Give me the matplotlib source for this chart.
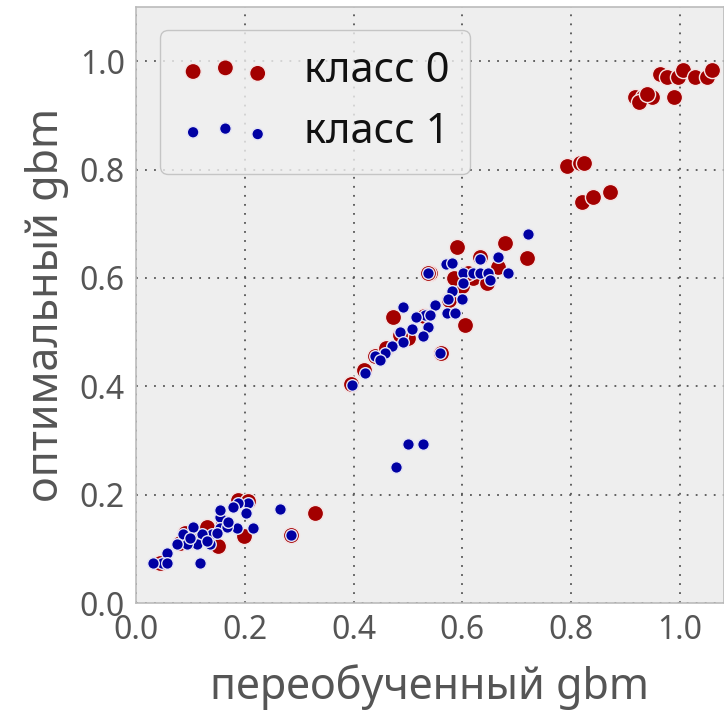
import matplotlib
matplotlib.use("Agg")
import matplotlib.pyplot as plt
import numpy as np

plt.rcParams['font.family'] = ['Noto Sans', 'DejaVu Sans']

# class 0 (red)
x0 = [0.917, 0.932, 0.949, 0.925, 0.940, 0.989, 0.963, 0.976, 0.996, 1.006, 1.028, 1.050, 1.059,
      0.792, 0.816, 0.820, 0.840, 0.871, 0.824,
      0.590, 0.678, 0.719, 0.605, 0.472, 0.540, 0.632, 0.665, 0.600, 0.560, 0.440, 0.420,
      0.395, 0.460, 0.500, 0.620, 0.645, 0.530, 0.575, 0.610, 0.585, 0.537, 0.485,
      0.329, 0.285, 0.199, 0.151, 0.188, 0.206, 0.090, 0.105, 0.080, 0.130, 0.160, 0.045]
y0 = [0.934, 0.934, 0.934, 0.925, 0.940, 0.934, 0.977, 0.970, 0.970, 0.983, 0.971, 0.970, 0.983,
      0.806, 0.812, 0.740, 0.749, 0.758, 0.812,
      0.657, 0.664, 0.636, 0.513, 0.528, 0.609, 0.638, 0.620, 0.585, 0.461, 0.456, 0.430,
      0.405, 0.470, 0.490, 0.600, 0.590, 0.530, 0.560, 0.609, 0.600, 0.609, 0.495,
      0.166, 0.125, 0.124, 0.105, 0.190, 0.188, 0.130, 0.115, 0.110, 0.140, 0.150, 0.074]

# class 1 (blue)
x1 = [0.721, 0.537, 0.570, 0.581, 0.632, 0.665, 0.601, 0.619, 0.632, 0.647, 0.684, 0.601, 0.651,
      0.581, 0.574, 0.599, 0.550, 0.491, 0.531, 0.540, 0.571, 0.586, 0.515, 0.537, 0.507, 0.485,
      0.528, 0.491, 0.471, 0.559, 0.458, 0.439, 0.449, 0.421, 0.397,
      0.478, 0.500, 0.528,
      0.265, 0.285, 0.216, 0.206, 0.188, 0.202, 0.154, 0.154, 0.185, 0.140, 0.121, 0.087,
      0.136, 0.112, 0.094, 0.075, 0.057, 0.048, 0.031, 0.057, 0.118, 0.154, 0.178, 0.167, 0.105,
      0.170, 0.130, 0.100, 0.148]
y1 = [0.681, 0.609, 0.625, 0.627, 0.635, 0.638, 0.609, 0.609, 0.609, 0.609, 0.609, 0.590, 0.596,
      0.576, 0.561, 0.561, 0.550, 0.546, 0.531, 0.531, 0.535, 0.535, 0.528, 0.509, 0.505, 0.500,
      0.493, 0.482, 0.474, 0.461, 0.461, 0.456, 0.448, 0.424, 0.402,
      0.251, 0.294, 0.294,
      0.173, 0.125, 0.138, 0.185, 0.185, 0.166, 0.159, 0.138, 0.138, 0.127, 0.127, 0.127,
      0.109, 0.109, 0.109, 0.109, 0.092, 0.074, 0.074, 0.074, 0.074, 0.171, 0.177, 0.140, 0.140,
      0.150, 0.115, 0.120, 0.130]

labels = ['класс 0', 'класс 1']

fig = plt.figure(figsize=(7.24, 7.11), dpi=100)
ax = fig.add_axes([136/724, 1 - 603/711, (724 - 136)/724, (603 - 7)/711])
ax.set_facecolor('#eeeeee')

ax.scatter(x0, y0, s=135, c='#a30000', edgecolors='#f4e4e4', linewidths=1.0, label=labels[0], zorder=3)
ax.scatter(x1, y1, s=70, c='#0000a3', edgecolors='#e4e4f4', linewidths=1.0, label=labels[1], zorder=4)

ax.set_xlim(0, 1.081)
ax.set_ylim(0, 1.10)
ax.set_xticks([0.0, 0.2, 0.4, 0.6, 0.8, 1.0])
ax.set_yticks([0.0, 0.2, 0.4, 0.6, 0.8, 1.0])
ax.set_xticklabels(['0.0', '0.2', '0.4', '0.6', '0.8', '1.0'])
ax.set_yticklabels(['0.0', '0.2', '0.4', '0.6', '0.8', '1.0'])
ax.grid(True, linestyle=(0, (1, 4)), color='#555555', linewidth=1.3, zorder=0)
ax.set_axisbelow(True)
ax.tick_params(axis='both', length=0, labelsize=23, labelcolor='#555555', pad=8)
for sp in ax.spines.values():
    sp.set_color('#bbbbbb')
    sp.set_linewidth(1.2)

ax.set_xlabel('переобученный gbm', fontsize=31, color='#555555', labelpad=12)
ax.set_ylabel('оптимальный gbm', fontsize=31, color='#555555', labelpad=8)

leg = ax.legend(loc='upper left', fontsize=30, scatterpoints=3, frameon=True,
                borderpad=0.5, labelspacing=0.45, handletextpad=0.8, handlelength=2.15,
                bbox_to_anchor=(0.005, 0.997))
leg.get_frame().set_facecolor('#f0f0f0')
leg.get_frame().set_edgecolor('#bbbbbb')
for t in leg.get_texts():
    t.set_color('#111111')

fig.savefig('out.png', dpi=100)
